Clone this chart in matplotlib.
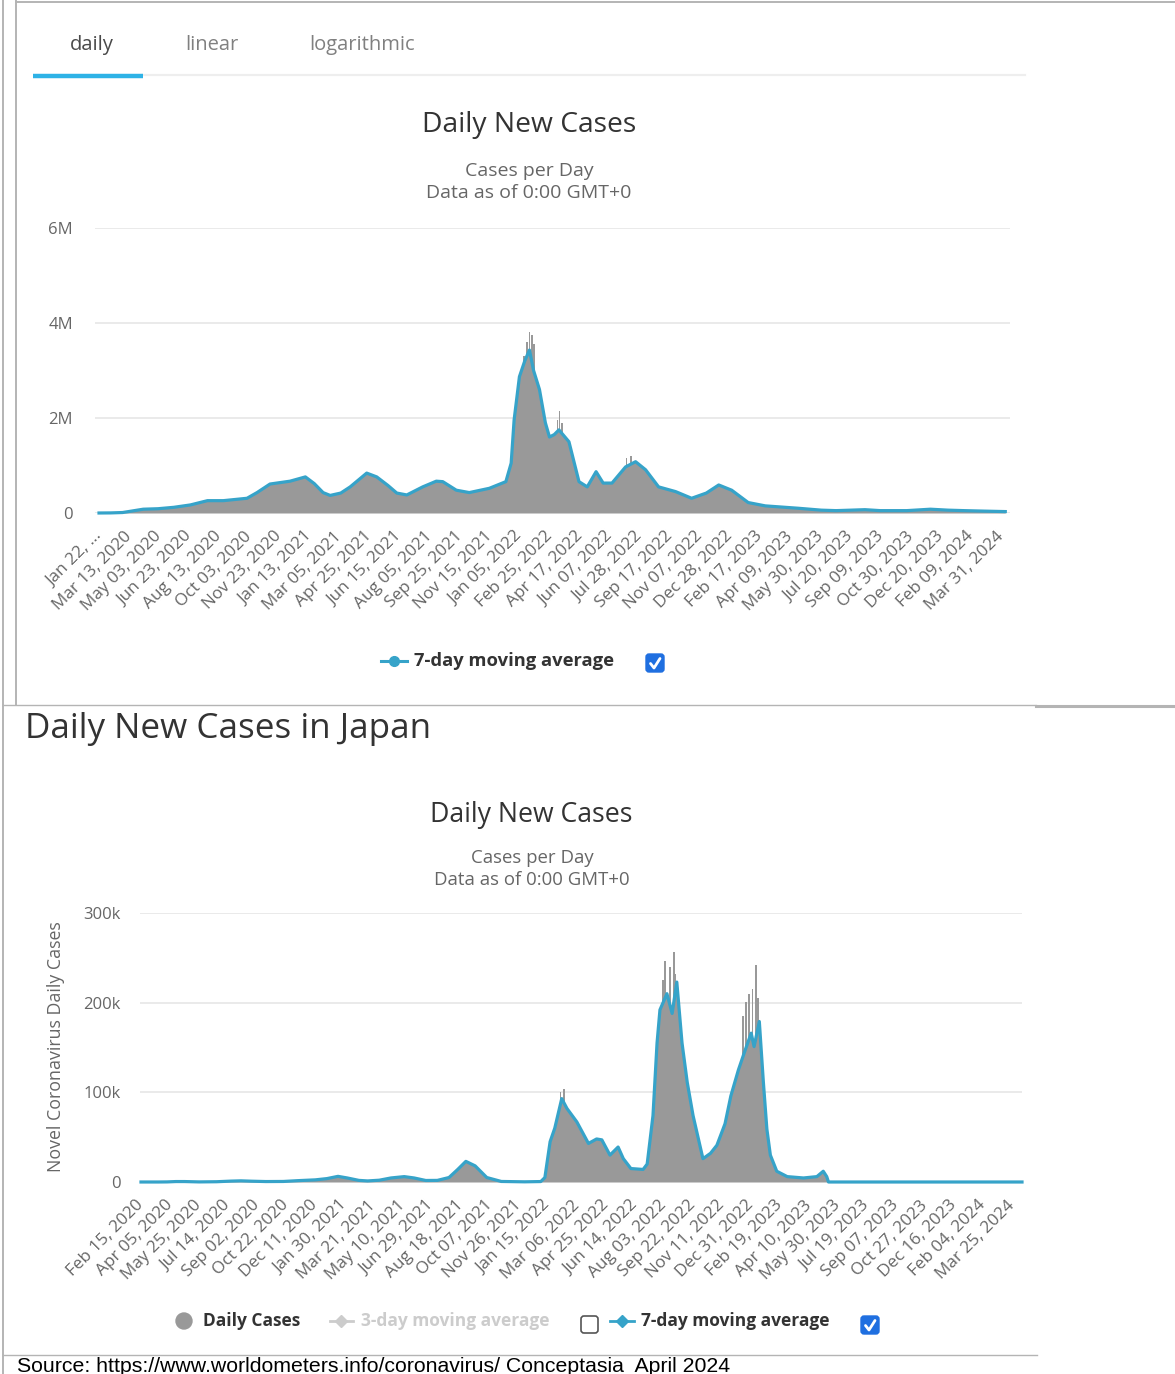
import matplotlib
matplotlib.use("Agg")
import matplotlib.pyplot as plt
from matplotlib.patches import FancyBboxPatch, Circle
import numpy as np

# ---- world chart: days since Jan 22, 2020, 7-day average in millions ----
world_days = [0, 20, 40, 60, 75, 100, 127, 155, 184, 211, 251, 268, 290, 324, 350,
              365, 380, 392, 410, 426, 454, 471, 490, 505, 522, 549, 572, 583, 606, 628,
              662, 690, 699, 704, 713, 722, 730, 737, 747, 757, 764, 772, 780, 797, 814,
              828, 843, 855, 870, 893, 910, 927, 949, 978, 1005, 1030, 1051, 1073, 1101, 1130,
              1186, 1225, 1250, 1275, 1299, 1325, 1370, 1410, 1440, 1467, 1500, 1537]
world_avg_m = [0.0, 0.002, 0.01, 0.05, 0.08, 0.09, 0.12, 0.17, 0.26, 0.26, 0.31, 0.43, 0.61, 0.67, 0.76,
               0.62, 0.43, 0.37, 0.42, 0.55, 0.84, 0.76, 0.58, 0.42, 0.38, 0.55, 0.67, 0.66, 0.48, 0.43,
               0.52, 0.66, 1.05, 1.96, 2.87, 3.2, 3.43, 3.0, 2.6, 1.9, 1.6, 1.65, 1.75, 1.5, 0.66,
               0.55, 0.87, 0.63, 0.63, 0.97, 1.08, 0.91, 0.55, 0.45, 0.31, 0.42, 0.59, 0.48, 0.22, 0.15,
               0.10, 0.06, 0.05, 0.06, 0.07, 0.05, 0.05, 0.08, 0.06, 0.05, 0.04, 0.03]
# daily bars that stick out above the average
world_spike_days = [716, 721, 726, 730, 734, 738, 778, 781, 785, 895, 902]
world_spike_m = [3.0, 3.3, 3.6, 3.82, 3.75, 3.55, 1.95, 2.15, 1.9, 1.15, 1.2]
world_labels = ["Jan 22, \u2026", "Mar 13, 2020", "May 03, 2020", "Jun 23, 2020", "Aug 13, 2020",
                "Oct 03, 2020", "Nov 23, 2020", "Jan 13, 2021", "Mar 05, 2021", "Apr 25, 2021",
                "Jun 15, 2021", "Aug 05, 2021", "Sep 25, 2021", "Nov 15, 2021", "Jan 05, 2022",
                "Feb 25, 2022", "Apr 17, 2022", "Jun 07, 2022", "Jul 28, 2022", "Sep 17, 2022",
                "Nov 07, 2022", "Dec 28, 2022", "Feb 17, 2023", "Apr 09, 2023", "May 30, 2023",
                "Jul 20, 2023", "Sep 09, 2023", "Oct 30, 2023", "Dec 20, 2023", "Feb 09, 2024",
                "Mar 31, 2024"]

# ---- Japan chart: days since Feb 15, 2020, 7-day average in thousands ----
jp_days = [0, 30, 45, 60, 75, 100, 130, 155, 172, 190, 215, 245, 270, 300, 320,
           339, 355, 375, 390, 410, 430, 453, 470, 490, 510, 530, 545, 559, 575, 595,
           620, 660, 688, 695, 704, 712, 724, 733, 750, 770, 784, 793, 807, 821, 830,
           843, 864, 871, 881, 888, 893, 905, 914, 922, 931, 940, 950, 967, 980, 991,
           1005, 1015, 1028, 1038, 1050, 1055, 1064, 1071, 1077, 1083, 1094, 1112, 1140, 1163, 1174,
           1180, 1183, 1516]
jp_avg_k = [0, 0, 0.1, 0.5, 0.5, 0.1, 0.3, 1.0, 1.3, 0.9, 0.5, 0.6, 1.5, 2.4, 3.8,
            6.3, 4.5, 1.8, 1.2, 2.0, 4.5, 6.0, 4.5, 1.7, 1.8, 5.0, 14, 23, 18, 5,
            0.6, 0.2, 0.5, 5, 45, 60, 93, 82, 67, 43, 48, 47, 30, 39, 26,
            15, 14, 20, 74, 155, 192, 210, 188, 223, 155, 111, 74, 26, 32, 41,
            65, 96, 125, 144, 166, 151, 179, 111, 59, 30, 12, 6, 4.5, 6, 12,
            6, 0, 0]
jp_spike_days = [722, 728, 898, 902, 910, 917, 920, 1036, 1041, 1046, 1052, 1058, 1062]
jp_spike_k = [100, 104, 225, 247, 240, 256, 232, 185, 201, 210, 215, 242, 205]
jp_labels = ["Feb 15, 2020", "Apr 05, 2020", "May 25, 2020", "Jul 14, 2020", "Sep 02, 2020",
             "Oct 22, 2020", "Dec 11, 2020", "Jan 30, 2021", "Mar 21, 2021", "May 10, 2021",
             "Jun 29, 2021", "Aug 18, 2021", "Oct 07, 2021", "Nov 26, 2021", "Jan 15, 2022",
             "Mar 06, 2022", "Apr 25, 2022", "Jun 14, 2022", "Aug 03, 2022", "Sep 22, 2022",
             "Nov 11, 2022", "Dec 31, 2022", "Feb 19, 2023", "Apr 10, 2023", "May 30, 2023",
             "Jul 19, 2023", "Sep 07, 2023", "Oct 27, 2023", "Dec 16, 2023", "Feb 04, 2024",
             "Mar 25, 2024"]

W, H = 1175, 1374
GRAY = '#999999'
BLUE = '#36a3c9'
TXT = '#333333'
SUB = '#666666'
BORDER = '#b4b4b4'

plt.rcParams['font.family'] = ['Open Sans', 'DejaVu Sans']
fig = plt.figure(figsize=(W / 100, H / 100), dpi=100)

# overlay in pixel coordinates for frame, tabs, titles and legends
ov = fig.add_axes([0, 0, 1, 1])
ov.set_xlim(0, W)
ov.set_ylim(H, 0)
ov.axis('off')


def px_axes(x0, y0, x1, y1):
    return fig.add_axes([x0 / W, 1 - y1 / H, (x1 - x0) / W, (y1 - y0) / H])


def draw_chart(ax, days, avg, sdays, svals, scale, step, labels, yticks, ylabels, xlim, ylim, ypad):
    ax.set_facecolor('none')
    for s in ax.spines.values():
        s.set_visible(False)
    d = np.array(days)
    v = np.array(avg) * scale
    ax.fill_between(d, v, color=GRAY, lw=0, zorder=2)
    ax.bar(np.array(sdays), np.array(svals) * scale, width=2.4, color=GRAY, lw=0, zorder=2)
    ax.plot(d, v, color=BLUE, lw=2.3, zorder=3, clip_on=False, solid_joinstyle='round')
    ax.set_xlim(*xlim)
    ax.set_ylim(*ylim)
    ax.set_yticks(yticks, ylabels, color=SUB, fontsize=12)
    ax.yaxis.grid(True, color='#e6e6e6', lw=1.2)
    ax.set_axisbelow(True)
    ax.tick_params(axis='y', length=0, pad=ypad)
    ax.set_xticks(np.arange(len(labels)) * step, labels, rotation=45, ha='right', va='center',
                  rotation_mode='anchor', color=SUB, fontsize=12.3)
    ax.tick_params(axis='x', length=0, pad=15)


def checkbox(x, y, checked):
    if checked:
        ov.add_patch(FancyBboxPatch((x, y), 18, 18, boxstyle='round,pad=0,rounding_size=3',
                                    fc='#1f6fe0', ec='#1f6fe0', lw=1))
        ov.plot([x + 4.5, x + 8, x + 14], [y + 9.5, y + 14, y + 4.5], color='white', lw=2,
                solid_capstyle='round')
    else:
        ov.add_patch(FancyBboxPatch((x, y), 17, 17, boxstyle='round,pad=0,rounding_size=3',
                                    fc='white', ec='#555555', lw=1.2))


# ---- frame lines ----
ov.plot([3, 3], [0, H], color=BORDER, lw=1.4)
ov.plot([16, 16], [0, 705], color=BORDER, lw=1.4)
ov.plot([16, W], [1.5, 1.5], color=BORDER, lw=1.4)
ov.plot([3, 1036], [705, 705], color=BORDER, lw=1.0)
ov.plot([1036, W], [706, 706], color=BORDER, lw=2.2)
ov.plot([3, 1037], [1355, 1355], color=BORDER, lw=1.0)

# ---- tabs ----
ov.text(92, 45, 'daily', color='#4a4a4a', fontsize=14.5, ha='center', va='center')
ov.text(212, 45, 'linear', color='#808080', fontsize=14.5, ha='center', va='center')
ov.text(362, 45, 'logarithmic', color='#808080', fontsize=14.5, ha='center', va='center')
ov.plot([143, 1025], [74.5, 74.5], color='#eeeeee', lw=1.6)
ov.plot([33, 143], [76, 76], color='#2eb2e6', lw=3.2, solid_capstyle='butt')

# ---- world chart ----
ov.text(529, 125, 'Daily New Cases', color=TXT, fontsize=20.3, ha='center', va='center')
ov.text(529, 171, 'Cases per Day', color=SUB, fontsize=14, ha='center', va='center')
ov.text(529, 193, 'Data as of 0:00 GMT+0', color=SUB, fontsize=14, ha='center', va='center')

ax1 = px_axes(95, 228, 1010, 513)
draw_chart(ax1, world_days, world_avg_m, world_spike_days, world_spike_m, 1e6, 51,
           world_labels, [0, 2e6, 4e6, 6e6], ['0', '2M', '4M', '6M'],
           (-6.8, 1545), (0, 6e6), 16)

ov.plot([381, 407], [661, 661], color=BLUE, lw=2.2)
ov.plot([394], [661], marker='o', ms=7, color=BLUE)
ov.text(414, 661, '7-day moving average', color=TXT, fontsize=13.2, fontweight='bold',
        va='center')
checkbox(646, 654, True)

# ---- Japan chart ----
ov.text(25, 729, 'Daily New Cases in Japan', color=TXT, fontsize=25.2, va='center')
ov.text(531, 815, 'Daily New Cases', color=TXT, fontsize=19.2, ha='center', va='center')
ov.text(532, 858, 'Cases per Day', color=SUB, fontsize=13.4, ha='center', va='center')
ov.text(532, 880, 'Data as of 0:00 GMT+0', color=SUB, fontsize=13.4, ha='center', va='center')
ov.text(56, 1047, 'Novel Coronavirus Daily Cases', color=SUB, fontsize=12.8, rotation=90,
        ha='center', va='center')

ax2 = px_axes(140, 913, 1022, 1182)
draw_chart(ax2, jp_days, jp_avg_k, jp_spike_days, jp_spike_k, 1e3, 50,
           jp_labels, [0, 1e5, 2e5, 3e5], ['0', '100k', '200k', '300k'],
           (-1.7, 1516), (0, 3e5), 14)

ov.add_patch(Circle((184, 1321), 8, color='#999999'))
ov.text(203, 1321, 'Daily Cases', color=TXT, fontsize=12.5, fontweight='bold', va='center')
ov.plot([330, 353], [1321, 1321], color='#cccccc', lw=2)
ov.plot([341], [1321], marker='D', ms=6, color='#cccccc')
ov.text(361, 1321, '3-day moving average', color='#cccccc', fontsize=12.5, fontweight='bold',
        va='center')
checkbox(581, 1316, False)
ov.plot([610, 634], [1321, 1321], color=BLUE, lw=2)
ov.plot([622], [1321], marker='D', ms=6, color=BLUE)
ov.text(641, 1321, '7-day moving average', color=TXT, fontsize=12.5, fontweight='bold',
        va='center')
checkbox(861, 1316, True)

ov.text(17, 1357, 'Source: https://www.worldometers.info/coronavirus/ Conceptasia  April 2024',
        color='black', fontsize=15.3, family=['Liberation Sans', 'DejaVu Sans'], va='top')

fig.savefig('out.png', dpi=100)
